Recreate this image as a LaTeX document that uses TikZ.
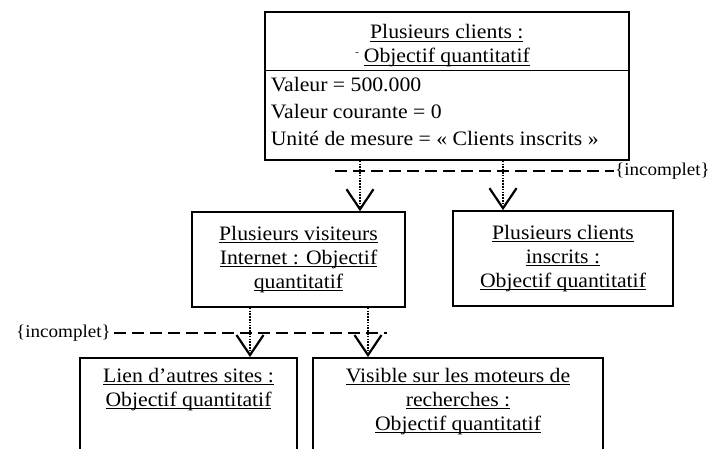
\documentclass[tikz,border=0pt]{standalone}
\usepackage{fontspec}
\setmainfont{Liberation Serif}[FakeStretch=1.06]
\usetikzlibrary{arrows.meta,shapes.multipart}
\newcommand\ulx[1]{\leavevmode\setbox0\hbox{#1}\rlap{\rule[-3pt]{\wd0}{1.1pt}}\box0}
\begin{document}
\begin{tikzpicture}[x=1pt,y=-1pt,
  box/.style={draw, line width=1.6pt, inner sep=0pt},
  txt/.style={font=\fontsize{20.5}{24}\selectfont},
  dep/.style={line width=1.8pt, dash pattern=on 1.6pt off 1.2pt,
    -{Straight Barb[length=20pt,width=27pt,line width=2.2pt]}},
  gen/.style={line width=1.5pt, dash pattern=on 12pt off 6pt},
  lbl/.style={font=\fontsize{18}{22}\selectfont, inner sep=3pt}]
\path[use as bounding box, fill=white] (0,0) rectangle (711,448);
\clip (0,0) rectangle (711,448);

% top class box
\node[box, txt, rectangle split, rectangle split parts=2, anchor=north west,
      inner xsep=6pt, inner ysep=0pt] (top) at (264,11)
 {\parbox[t][57pt][t]{352pt}{\centering\vspace*{12pt}\ulx{Plusieurs clients :}\\
   \leavevmode\llap{\raisebox{7pt}{\fontsize{10}{10}\selectfont -}\hspace{5pt}}\ulx{Objectif quantitatif}}%
  \nodepart{two}%
  \parbox[t][88pt][t]{352pt}{\fontsize{20.5}{27}\selectfont\raggedright\vspace*{6pt}Valeur = 500.000\\
   Valeur courante = 0\\
   Unité de mesure = « Clients inscrits »}};

% middle boxes
\node[box, txt, minimum width=213pt, minimum height=95pt, align=center] (mid1) at (298.5,259.5)
 {\ulx{Plusieurs visiteurs}\\\ulx{Internet : Objectif}\\\ulx{quantitatif}};
\node[box, txt, minimum width=220pt, minimum height=95pt, align=center] (mid2) at (563,258.5)
 {\ulx{Plusieurs clients}\\\ulx{inscrits :}\\\ulx{Objectif quantitatif}};

% bottom boxes
\node[box, txt, anchor=north, minimum width=217pt] (bot1) at (188.5,357)
 {\parbox[t][120pt][t]{213pt}{\centering\vspace*{10pt}\ulx{Lien d’autres sites :}\\\ulx{Objectif quantitatif}}};
\node[box, txt, anchor=north, minimum width=290pt] (bot2) at (458,357)
 {\parbox[t][120pt][t]{286pt}{\centering\vspace*{10pt}\ulx{Visible sur les moteurs de}\\\ulx{recherches :}\\\ulx{Objectif quantitatif}}};

% connector columns
\coordinate (a1) at (360,0);
\coordinate (a2) at (503,0);
\coordinate (b1) at (250,0);
\coordinate (b2) at (368,0);

\draw[dep] (top.south -| a1) -- (mid1.north -| a1);
\draw[dep] (top.south -| a2) -- (mid2.north -| a2);
\draw[dep] (mid1.south -| b1) -- (bot1.north -| b1);
\draw[dep] (mid1.south -| b2) -- (bot2.north -| b2);

% {incomplet} constraints
\coordinate (d1) at (335,171);
\node[lbl, anchor=east, inner xsep=1pt] (inc1) at (711,171) {\{incomplet\}};
\draw[gen] (d1) -- (inc1.west);

\node[lbl, anchor=east] (inc2) at (114,333) {\{incomplet\}};
\coordinate (d2) at (387,333);
\draw[gen] (inc2.east) -- (d2);
\end{tikzpicture}
\end{document}
